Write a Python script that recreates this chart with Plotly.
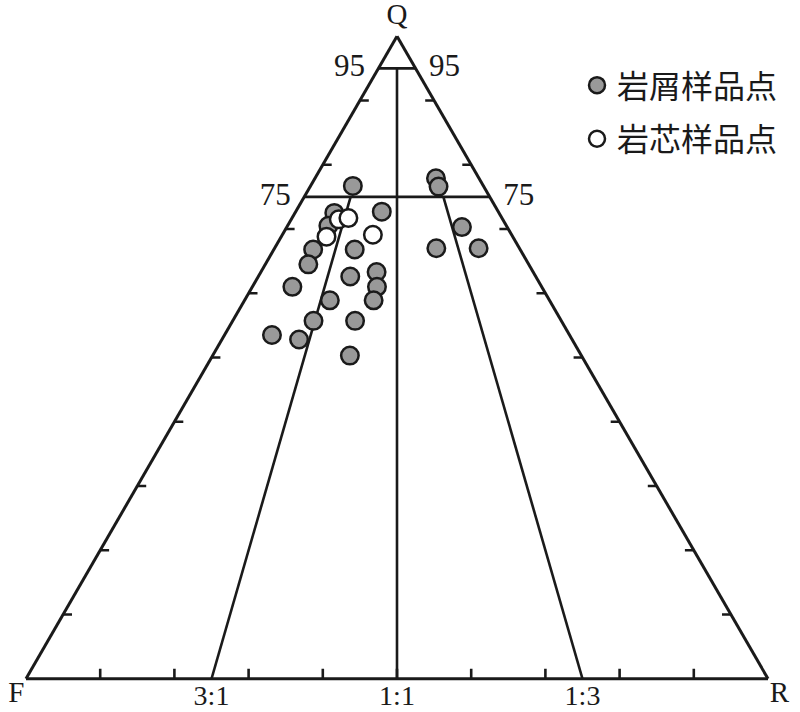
import plotly.graph_objects as go

# ---------------- data (percent) ----------------
# 岩屑样品点 (cuttings samples)
CUT_Q = [76.7, 77.9, 76.6, 72.7, 72.5, 70.5, 70.3, 66.8, 66.8, 67.0, 67.0, 64.5,
         63.3, 62.6, 61.0, 61.0, 58.9, 58.9, 55.7, 55.7, 53.5, 52.8, 50.3]
CUT_F = [17.6, 5.8, 6.1, 15.7, 22.2, 24.0, 6.1, 27.9, 22.3, 11.2, 5.5, 29.7,
         21.1, 25.0, 33.6, 22.2, 29.6, 23.7, 33.4, 27.8, 40.1, 36.8, 31.2]
CUT_R = [5.7, 16.3, 17.3, 11.6, 5.3, 5.5, 23.6, 5.3, 10.9, 21.8, 27.5, 5.8,
         15.6, 12.4, 5.4, 16.8, 11.5, 17.4, 10.9, 16.5, 6.4, 10.4, 18.5]
# 岩芯样品点 (core samples)
CORE_Q = [71.5, 71.7, 68.8, 69.1]
CORE_F = [22.1, 20.7, 25.1, 18.7]
CORE_R = [6.4, 7.6, 6.1, 12.2]

SERIES_NAMES = ["岩屑样品点", "岩芯样品点"]
VERTEX_LABELS = ["Q", "F", "R"]
Q_LEVELS = [95, 75]                 # horizontal boundary lines
RATIO_FRACTIONS = [0.25, 0.5, 0.75]  # R/(F+R) of the ratio lines
RATIO_LABELS = ["3:1", "1:1", "1:3"]
RATIO_TOP = [75, 95, 75]            # Q value where each ratio line starts
TICK_VALUES = [10, 20, 30, 40, 50, 60, 70, 80, 90]

SERIF = "Liberation Serif"
CJK = "Noto Sans CJK SC"
INK = "#1a1a1a"

fig = go.Figure()

# boundary lines at constant Q
for q in Q_LEVELS:
    fig.add_trace(go.Scatterternary(
        a=[q, q], b=[100 - q, 0], c=[0, 100 - q], mode="lines",
        line=dict(color=INK, width=2.6), showlegend=False, hoverinfo="skip"))

# F:R ratio lines from Q level to base
for frac, qtop in zip(RATIO_FRACTIONS, RATIO_TOP):
    rest = 100 - qtop
    fig.add_trace(go.Scatterternary(
        a=[qtop, 0], b=[rest * (1 - frac), 100 * (1 - frac)],
        c=[rest * frac, 100 * frac], mode="lines",
        line=dict(color=INK, width=2.6), showlegend=False, hoverinfo="skip"))

# inward tick marks built from tick values
SIDE_LEN = 1.2     # horizontal tick length (percent units)
BASE_LEN = 1.55    # vertical tick length (percent units of Q)
ta, tb, tc = [], [], []
for t in TICK_VALUES:
    # left side (horizontal ticks)
    ta += [t, t, None]; tb += [100 - t, 100 - t - SIDE_LEN, None]; tc += [0, SIDE_LEN, None]
    # right side (horizontal ticks)
    ta += [t, t, None]; tb += [0, SIDE_LEN, None]; tc += [100 - t, 100 - t - SIDE_LEN, None]
    # base (vertical ticks)
    ta += [0, BASE_LEN, None]
    tb += [100 - t, 100 - t - BASE_LEN / 2, None]
    tc += [t, t - BASE_LEN / 2, None]
fig.add_trace(go.Scatterternary(a=ta, b=tb, c=tc, mode="lines",
                                line=dict(color=INK, width=2.6),
                                showlegend=False, hoverinfo="skip"))

# numeric labels of Q levels
for q in Q_LEVELS:
    fig.add_trace(go.Scatterternary(
        a=[q, q], b=[100 - q, 0], c=[0, 100 - q], mode="markers+text",
        text=[str(q), str(q)], textposition=["middle left", "middle right"],
        marker=dict(size=20, opacity=0), cliponaxis=False,
        textfont=dict(family=SERIF, size=31, color=INK),
        showlegend=False, hoverinfo="skip"))

# ratio labels below the base
fig.add_trace(go.Scatterternary(
    a=[0] * len(RATIO_FRACTIONS),
    b=[100 * (1 - f) for f in RATIO_FRACTIONS],
    c=[100 * f for f in RATIO_FRACTIONS],
    mode="markers+text", text=RATIO_LABELS, textposition="bottom center",
    marker=dict(size=6, opacity=0), cliponaxis=False,
    textfont=dict(family=SERIF, size=28, color=INK),
    showlegend=False, hoverinfo="skip"))

# vertex labels
fig.add_trace(go.Scatterternary(
    a=[100], b=[0], c=[0], mode="markers+text", text=[VERTEX_LABELS[0]],
    textposition="top center",
    marker=dict(size=6, opacity=0), cliponaxis=False,
    textfont=dict(family=SERIF, size=29, color=INK),
    showlegend=False, hoverinfo="skip"))
fig.add_trace(go.Scatterternary(
    a=[0, 0], b=[100, 0], c=[0, 100], mode="markers+text", text=VERTEX_LABELS[1:],
    textposition=["bottom left", "bottom right"],
    marker=dict(size=1, opacity=0), cliponaxis=False,
    textfont=dict(family=SERIF, size=29, color=INK),
    showlegend=False, hoverinfo="skip"))

# sample points
fig.add_trace(go.Scatterternary(
    a=CUT_Q, b=CUT_F, c=CUT_R, mode="markers", name=SERIES_NAMES[0],
    legendgroup="g1",
    marker=dict(size=17.5, color="#999999", line=dict(color=INK, width=2.5)),
    cliponaxis=False))
fig.add_trace(go.Scatterternary(
    a=CORE_Q, b=CORE_F, c=CORE_R, mode="markers", name=SERIES_NAMES[1],
    legendgroup="g2",
    marker=dict(size=17.5, color="white", line=dict(color=INK, width=2.5)),
    cliponaxis=False))

axis_style = dict(showline=True, linecolor=INK, linewidth=3, showgrid=False,
                  ticks="", showticklabels=False, title=dict(text=""))

fig.update_layout(
    width=800, height=712,
    margin=dict(l=26, r=32, t=36, b=33),
    paper_bgcolor="white", plot_bgcolor="white",
    ternary=dict(sum=100, bgcolor="white",
                 domain=dict(x=[0, 1], y=[0, 1]),
                 aaxis=axis_style, baxis=axis_style, caxis=axis_style),
    showlegend=True,
    legend=dict(x=0.7426, y=0.966, xanchor="left", yanchor="top",
                font=dict(family=CJK, size=32, color=INK),
                tracegroupgap=9, bgcolor="rgba(0,0,0,0)", itemsizing="trace"),
)

# place the figure at the page's top-left corner (no default body margin)
fig.write_html("out.html", config={"displayModeBar": False},
               post_script="document.body.style.margin='0';document.body.style.overflow='hidden';")
